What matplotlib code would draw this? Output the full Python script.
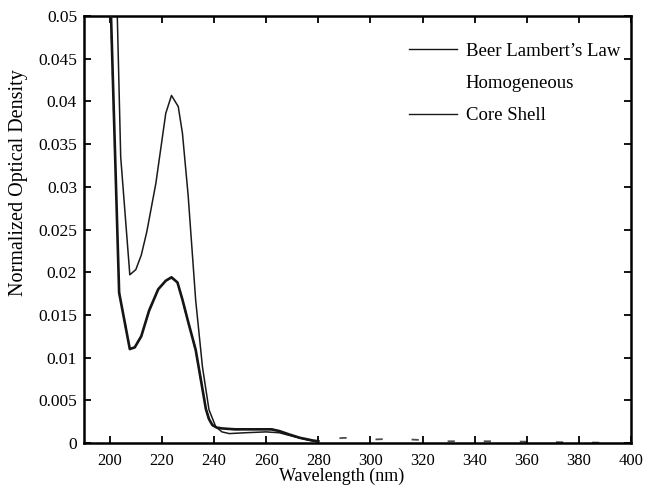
import matplotlib
matplotlib.use('Agg')
import matplotlib.pyplot as plt

plt.rcParams['font.family'] = ['Liberation Serif', 'DejaVu Serif']

# Beer Lambert's Law (lower, heavier curve)
bl_wl = [200, 203.5, 207.6, 209.5, 212, 215, 218.5, 221.4, 223.6, 225.9, 227.8, 230,
         232.9, 235, 236.8, 238, 239.3, 241, 243.2, 248, 255, 262, 265, 268.8, 273, 277.7, 280]
bl_od = [0.054, 0.0176, 0.0110, 0.0112, 0.0125, 0.0155, 0.0180, 0.0190, 0.0194, 0.0188,
         0.0168, 0.0142, 0.0109, 0.0072, 0.0040, 0.0028, 0.0021, 0.0018, 0.0017, 0.0016,
         0.0016, 0.0016, 0.0014, 0.0010, 0.0006, 0.0003, 0.0002]

# Homogeneous (mostly hidden under Beer Lambert, faint dashes in the tail)
hom_wl = bl_wl + [285, 290, 300, 310, 316, 330, 350, 370, 400]
hom_od = bl_od + [0.0005, 0.0006, 0.0004, 0.0005, 0.0004, 0.0002, 0.0002, 0.0001, 0.0]

# Core Shell (upper, thin curve)
cs_wl = [202, 204.1, 207.6, 209.9, 212, 214.1, 217.6, 221.4, 223.6, 226.2, 227.8, 230,
         232.9, 235.5, 238, 240.6, 243, 245.8, 252, 259.9, 265, 270, 275.3, 280]
cs_od = [0.060, 0.0335, 0.0197, 0.0203, 0.0220, 0.0247, 0.0304, 0.0386, 0.0407, 0.0394,
         0.0363, 0.0290, 0.0167, 0.0089, 0.0039, 0.0019, 0.0013, 0.0011, 0.0012, 0.0013,
         0.0012, 0.0008, 0.0004, 0.0001]

fig = plt.figure(figsize=(6.49, 4.86), dpi=100)
ax = fig.add_axes([0.1294, 0.0885, 0.8426, 0.8785])

ax.plot(hom_wl, hom_od, color='0.3', lw=1.3, dashes=(4, 16), label='Homogeneous', zorder=1)
ax.plot(bl_wl, bl_od, color='#151515', lw=1.9, label="Beer Lambert\u2019s Law", zorder=3)
ax.plot(cs_wl, cs_od, color='#1a1a1a', lw=1.1, label='Core Shell', zorder=2)

ax.set_xlim(190, 400)
ax.set_ylim(0, 0.05)
ax.set_xticks(range(200, 401, 20))
ax.set_yticks([0, 0.005, 0.01, 0.015, 0.02, 0.025, 0.03, 0.035, 0.04, 0.045, 0.05])
ax.set_yticklabels(['0', '0.005', '0.01', '0.015', '0.02', '0.025', '0.03', '0.035',
                    '0.04', '0.045', '0.05'])
ax.tick_params(direction='in', length=5, width=1.3, top=True, right=True, labelsize=12.5)
ax.tick_params(axis='x', pad=7, labelsize=12)
ax.tick_params(axis='y', pad=5)
for sp in ax.spines.values():
    sp.set_linewidth(1.8)

ax.set_xlabel('Wavelength (nm)', fontsize=13)
ax.xaxis.set_label_coords(0.472, -0.057)
ax.set_ylabel('Normalized Optical Density', fontsize=14.5)
ax.yaxis.set_label_coords(-0.119, 0.609)
ax.yaxis.label.set_va('center')

handles, labels = ax.get_legend_handles_labels()
order = [1, 0, 2]
leg = ax.legend([handles[i] for i in order], [labels[i] for i in order],
                loc='upper left', bbox_to_anchor=(0.58, 0.955), frameon=False,
                fontsize=13.5, handlelength=2.6, labelspacing=0.8,
                borderaxespad=0.0, handletextpad=0.45)
leg.get_lines()[1].set_visible(False)
for ln in leg.get_lines():
    ln.set_linewidth(1.0)

fig.savefig('out.png', dpi=100)
